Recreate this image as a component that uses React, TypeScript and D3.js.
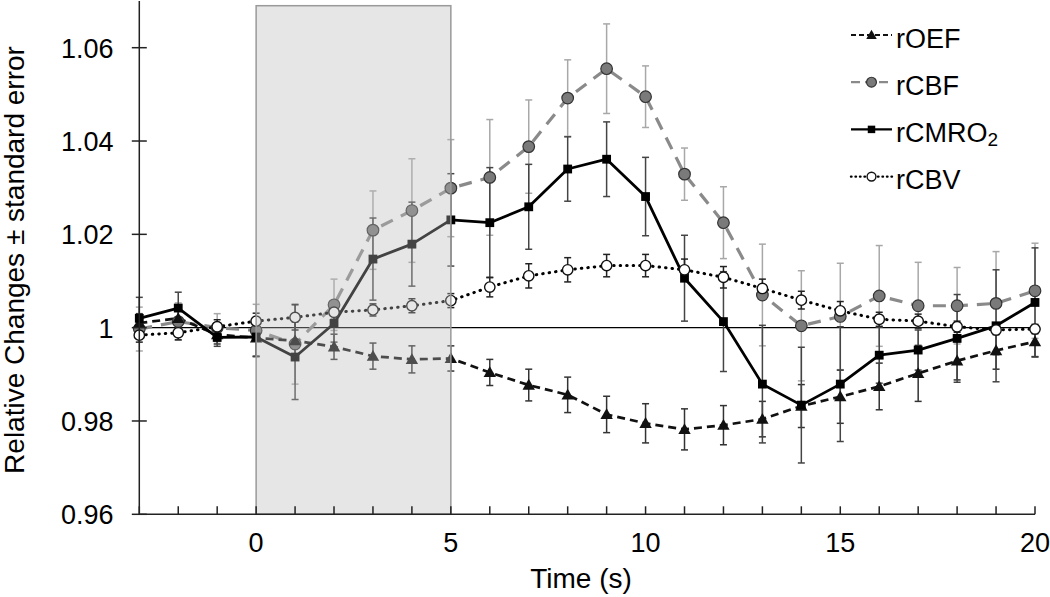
import React from 'react';
import * as d3 from 'd3';

const times = [-3, -2, -1, 0, 1, 2, 3, 4, 5, 6, 7, 8, 9, 10, 11, 12, 13, 14, 15, 16, 17, 18, 19, 20];

const rOEF = [1.0010, 1.0020, 0.9985, 0.9978, 0.9972, 0.9959, 0.9939, 0.9932, 0.9934, 0.9904, 0.9877, 0.9856, 0.9814, 0.9795, 0.9782, 0.9791, 0.9804, 0.9832, 0.9852, 0.9874, 0.9902, 0.9929, 0.9951, 0.9970];
const rOEFse = [0.002, 0.002, 0.002, 0.004, 0.004, 0.0027, 0.0028, 0.0029, 0.0027, 0.0028, 0.0034, 0.0038, 0.0039, 0.0042, 0.0044, 0.0042, 0.0038, 0.0046, 0.0057, 0.005, 0.006, 0.0041, 0.004, 0.0032];

const rCBF = [0.9997, 1.0013, 1.0000, 0.9994, 0.9965, 1.0049, 1.0209, 1.0251, 1.0299, 1.0322, 1.0388, 1.0492, 1.0555, 1.0495, 1.0329, 1.0225, 1.0070, 1.0004, 1.0024, 1.0068, 1.0047, 1.0047, 1.0052, 1.0079];
const rCBFse = [0.0047, 0.004, 0.003, 0.0056, 0.0086, 0.0055, 0.0084, 0.0111, 0.0104, 0.0124, 0.0100, 0.0082, 0.0096, 0.0066, 0.0056, 0.0077, 0.0109, 0.0118, 0.0114, 0.0108, 0.0093, 0.0082, 0.0111, 0.0102];

const rCMRO2 = [1.0020, 1.0042, 0.9979, 0.9980, 0.9937, 1.0009, 1.0147, 1.0179, 1.0231, 1.0225, 1.0259, 1.0340, 1.0361, 1.0281, 1.0106, 1.0013, 0.9879, 0.9834, 0.9879, 0.9941, 0.9952, 0.9977, 1.0004, 1.0054];
const rCMRO2se = [0.0045, 0.0034, 0.0019, 0.0041, 0.0091, 0.004, 0.0088, 0.009, 0.0099, 0.0118, 0.0091, 0.0069, 0.008, 0.0084, 0.0092, 0.0107, 0.0126, 0.0124, 0.0123, 0.006, 0.0043, 0.0094, 0.012, 0.0117];

const rCBV = [0.9984, 0.9989, 1.0002, 1.0014, 1.0022, 1.0033, 1.0038, 1.0047, 1.0058, 1.0087, 1.0111, 1.0124, 1.0133, 1.0133, 1.0124, 1.0108, 1.0084, 1.0059, 1.0036, 1.0018, 1.0014, 1.0002, 0.9995, 0.9997];
const rCBVse = [0.0015, 0.0015, 0.0015, 0.0017, 0.0027, 0.0015, 0.0013, 0.0015, 0.0015, 0.0021, 0.0026, 0.0026, 0.0024, 0.0024, 0.0023, 0.0023, 0.002, 0.0019, 0.002, 0.0015, 0.0015, 0.0012, 0.001, 0.001];

const yTicks = [0.96, 0.98, 1, 1.02, 1.04, 1.06];
const yTickLabels = ['0.96', '0.98', '1', '1.02', '1.04', '1.06'];
const xTickLabels = [0, 5, 10, 15, 20];
const stimulus = [0, 5];
const stimulusTop = 1.069;
const baseline = 1;

const W = 1050;
const H = 597;
const FONT = 'Arial, "Liberation Sans", Helvetica, sans-serif';

const x = d3.scaleLinear().domain([-3, 20]).range([139.3, 1035]);
const y = d3.scaleLinear().domain([0.96, 1.07]).range([514.3, 1.04]);

type Marker = 'triangle' | 'circle' | 'square' | 'open';

interface Series {
  key: string;
  values: number[];
  se: number[];
  stroke: string;
  width: number;
  dash?: string;
  cap?: 'round' | 'butt';
  marker: Marker;
  errColor: string;
  legendDash?: string;
}

const seriesList: Series[] = [
  { key: 'rCBF', values: rCBF, se: rCBFse, stroke: '#8a8a8a', width: 3.2, dash: '13,9', marker: 'circle', errColor: '#a8a8a8', legendDash: '9,5' },
  { key: 'rOEF', values: rOEF, se: rOEFse, stroke: '#111', width: 2.7, dash: '8,5', marker: 'triangle', errColor: '#333', legendDash: '5,3' },
  { key: 'rCMRO2', values: rCMRO2, se: rCMRO2se, stroke: '#000', width: 2.8, marker: 'square', errColor: '#444' },
  { key: 'rCBV', values: rCBV, se: rCBVse, stroke: '#000', width: 3, dash: '0.5,6', cap: 'round', marker: 'open', errColor: '#222', legendDash: '0.5,4' },
];

const legendOrder = ['rOEF', 'rCBF', 'rCMRO2', 'rCBV'];

function MarkerShape({ type, cx, cy, k = 1 }: { type: Marker; cx: number; cy: number; k?: number }) {
  if (type === 'circle')
    return <circle cx={cx} cy={cy} r={5.8 * k} fill="#7a7a7a" stroke="#333" strokeWidth={1.2} />;
  if (type === 'open')
    return <circle cx={cx} cy={cy} r={5.2 * k} fill="#fff" stroke="#111" strokeWidth={1.4} />;
  if (type === 'square')
    return <rect x={cx - 4.4 * k} y={cy - 4.4 * k} width={8.8 * k} height={8.8 * k} fill="#000" />;
  const s = 6.2 * k;
  return (
    <path d={`M${cx},${cy - s}L${cx + s},${cy + s * 0.75}L${cx - s},${cy + s * 0.75}Z`} fill="#111" />
  );
}

export default function App() {
  const line = d3
    .line<number>()
    .x((_, i) => x(times[i]))
    .y((d) => y(d));

  const legendY0 = 35;
  const legendStep = 47.2;

  return (
    <svg width={W} height={H} style={{ position: 'absolute', left: 0, top: 0, background: '#fff' }} fontFamily={FONT}>
      <line x1={x(-3)} x2={x(20)} y1={y(baseline)} y2={y(baseline)} stroke="#000" strokeWidth={1.4} />

      {seriesList.map((s) => (
        <g key={s.key + '-err'} stroke={s.errColor} strokeWidth={1.5}>
          {s.values.map((v, i) => {
            const cx = x(times[i]);
            const y1 = y(v + s.se[i]);
            const y2 = y(v - s.se[i]);
            return (
              <g key={i}>
                <line x1={cx} x2={cx} y1={y1} y2={y2} />
                <line x1={cx - 3.5} x2={cx + 3.5} y1={y1} y2={y1} />
                <line x1={cx - 3.5} x2={cx + 3.5} y1={y2} y2={y2} />
              </g>
            );
          })}
        </g>
      ))}

      {seriesList.map((s) => (
        <path
          key={s.key + '-line'}
          d={line(s.values) || ''}
          fill="none"
          stroke={s.stroke}
          strokeWidth={s.width}
          strokeDasharray={s.dash}
          strokeLinecap={s.cap || 'butt'}
          strokeLinejoin="round"
        />
      ))}

      {seriesList.map((s) => (
        <g key={s.key + '-m'}>
          {s.values.map((v, i) => (
            <MarkerShape key={i} type={s.marker} cx={x(times[i])} cy={y(v)} />
          ))}
        </g>
      ))}

      <rect
        x={x(stimulus[0])}
        y={y(stimulusTop)}
        width={x(stimulus[1]) - x(stimulus[0])}
        height={y(0.96) - y(stimulusTop)}
        fill="#bababa"
        fillOpacity={0.36}
        stroke="#9a9a9a"
        strokeWidth={1.5}
      />

      <line x1={x(-3)} x2={x(-3)} y1={y(1.07)} y2={y(0.96)} stroke="#222" strokeWidth={1.5} />
      {yTicks.map((t, i) => (
        <g key={'yt' + i}>
          <line x1={x(-3) - 7.5} x2={x(-3) + 7.5} y1={y(t)} y2={y(t)} stroke="#222" strokeWidth={1.5} />
          <text x={113.5} y={y(t) + 10} textAnchor="end" fontSize={27} fill="#000">
            {yTickLabels[i]}
          </text>
        </g>
      ))}

      <line x1={x(-3)} x2={x(20)} y1={y(0.96)} y2={y(0.96)} stroke="#222" strokeWidth={1.5} />
      {times.map((t) => (
        <line key={'xt' + t} x1={x(t)} x2={x(t)} y1={y(0.96)} y2={y(0.96) - 8} stroke="#222" strokeWidth={1.5} />
      ))}
      {xTickLabels.map((t) => (
        <text key={'xl' + t} x={x(t)} y={552} textAnchor="middle" fontSize={27} fill="#000">
          {t}
        </text>
      ))}

      <text x={581} y={588} textAnchor="middle" fontSize={28} fill="#000">
        Time (s)
      </text>
      <text transform={`translate(23.5,260) rotate(-90)`} textAnchor="middle" fontSize={28} fill="#000">
        Relative Changes ± standard error
      </text>

      {legendOrder.map((k, i) => {
        const s = seriesList.find((d) => d.key === k)!;
        const ly = legendY0 + i * legendStep;
        return (
          <g key={'lg' + k}>
            <line
              x1={851}
              x2={892}
              y1={ly}
              y2={ly}
              stroke={s.stroke}
              strokeWidth={s.cap === 'round' ? 2.4 : 2.2}
              strokeDasharray={s.legendDash}
              strokeLinecap={s.cap || 'butt'}
            />
            <MarkerShape type={s.marker} cx={871.5} cy={ly} k={0.85} />
            <text x={896} y={ly + 12.5} fontSize={27} fill="#000">
              {k === 'rCMRO2' ? (
                <>
                  rCMRO
                  <tspan fontSize={19} dy={4}>
                    2
                  </tspan>
                </>
              ) : (
                k
              )}
            </text>
          </g>
        );
      })}
    </svg>
  );
}
